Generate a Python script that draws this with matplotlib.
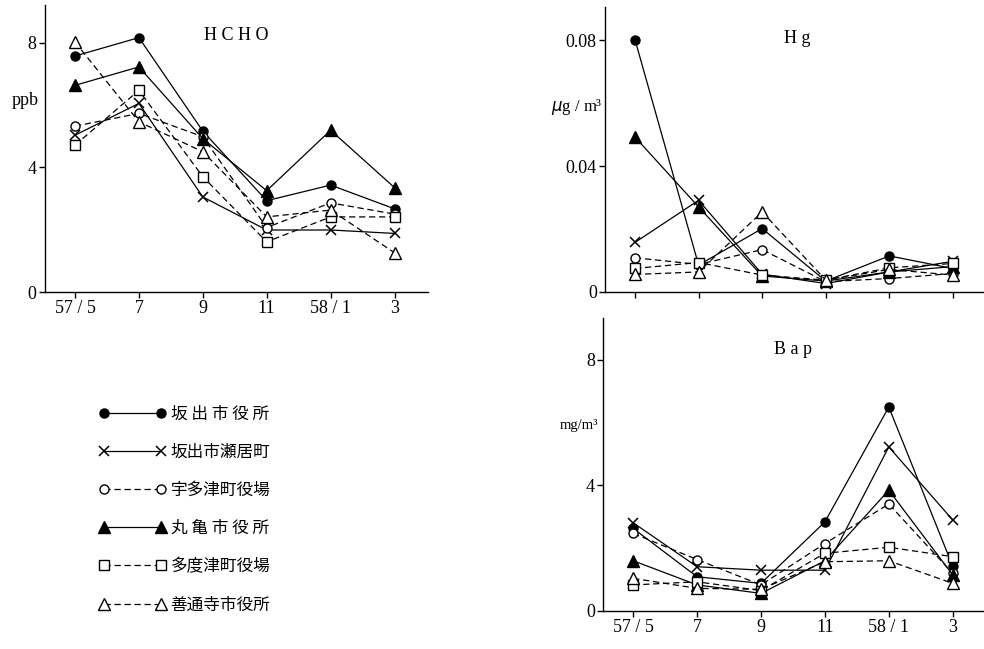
import matplotlib
matplotlib.use("Agg")
import matplotlib.pyplot as plt

plt.rcParams['font.family'] = ['Liberation Serif', 'Noto Sans CJK JP', 'DejaVu Sans']

# sampling months (Showa 57/5 ... 58/3)
months = ["57 / 5", "7", "9", "11", "58 / 1", "3"]
sites = ["坂 出 市 役 所", "坂出市瀬居町", "宇多津町役場", "丸 亀 市 役 所", "多度津町役場", "善通寺市役所"]

hcho_sakaide = [7.57, 8.16, 5.16, 2.93, 3.43, 2.67]
hcho_sei = [5.03, 6.05, 3.05, 1.99, 1.99, 1.88]
hcho_utazu = [5.32, 5.73, 4.98, 2.07, 2.86, 2.5]
hcho_marugame = [6.63, 7.22, 4.92, 3.25, 5.19, 3.35]
hcho_tadotsu = [4.71, 6.47, 3.70, 1.61, 2.41, 2.41]
hcho_zentsuji = [8.02, 5.46, 4.50, 2.41, 2.63, 1.26]

hg_sakaide = [0.0802, 0.0085, 0.0201, 0.0034, 0.0114, 0.0074]
hg_sei = [0.0157, 0.0291, 0.0056, 0.0026, 0.0063, 0.0097]
hg_utazu = [0.0108, 0.0087, 0.0134, 0.0032, 0.0042, 0.0058]
hg_marugame = [0.0492, 0.0270, 0.0050, 0.0034, 0.0063, 0.0080]
hg_tadotsu = [0.0074, 0.0093, 0.0053, 0.0037, 0.0076, 0.0090]
hg_zentsuji = [0.0055, 0.0063, 0.0254, 0.0037, 0.0071, 0.0053]

bap_sakaide = [2.63, 1.09, 0.88, 2.84, 6.50, 1.43]
bap_sei = [2.81, 1.41, 1.30, 1.30, 5.23, 2.90]
bap_utazu = [2.47, 1.64, 0.83, 2.15, 3.41, 1.20]
bap_marugame = [1.60, 0.83, 0.56, 1.60, 3.85, 1.15]
bap_tadotsu = [0.83, 0.93, 0.65, 1.84, 2.03, 1.73]
bap_zentsuji = [1.04, 0.72, 0.69, 1.57, 1.60, 0.88]

styles = [
    dict(marker='o', mfc='black', ms=6.5, ls='-'),
    dict(marker='x', mfc='black', ms=7, ls='-', mew=1.1),
    dict(marker='o', mfc='white', ms=6.5, ls=(0, (5, 3))),
    dict(marker='^', mfc='black', ms=8, ls='-'),
    dict(marker='s', mfc='white', ms=6.5, ls=(0, (5, 3))),
    dict(marker='^', mfc='white', ms=8, ls=(0, (5, 3))),
]

fig = plt.figure(figsize=(9.84, 6.49), dpi=100)
ax_hcho = fig.add_axes([0.0457, 0.550, 0.389, 0.442])
ax_hg = fig.add_axes([0.615, 0.5505, 0.385, 0.439])
ax_bap = fig.add_axes([0.613, 0.0586, 0.387, 0.451])

x = list(range(len(months)))


def setup(ax, ymax, yticks, ylabels, xlabels=True):
    for s in ('top', 'right'):
        ax.spines[s].set_visible(False)
    ax.spines['left'].set_linewidth(1.0)
    ax.spines['bottom'].set_linewidth(1.0)
    ax.set_xlim(-0.47, 5.52)
    ax.set_ylim(0, ymax)
    ax.set_xticks(x)
    ax.set_xticklabels(months if xlabels else [])
    ax.set_yticks(yticks)
    ax.set_yticklabels(ylabels)
    ax.tick_params(direction='out', length=4, width=1, labelsize=13, pad=2)


def draw(ax, series):
    lines = []
    for vals, st in zip(series, styles):
        ln, = ax.plot(x, vals, color='black', lw=0.9, mec='black', clip_on=False, **st)
        lines.append(ln)
    return lines


handles = draw(ax_hcho, [hcho_sakaide, hcho_sei, hcho_utazu, hcho_marugame, hcho_tadotsu, hcho_zentsuji])
setup(ax_hcho, 9.2, [0, 4, 8], ["0", "4", "8"])
ax_hcho.text(0.50, 0.895, "H C H O", transform=ax_hcho.transAxes, ha='center', va='center', fontsize=13)
ax_hcho.text(-0.052, 0.669, "ppb", transform=ax_hcho.transAxes, ha='center', va='center', fontsize=13)

draw(ax_hg, [hg_sakaide, hg_sei, hg_utazu, hg_marugame, hg_tadotsu, hg_zentsuji])
setup(ax_hg, 0.0907, [0, 0.04, 0.08], ["0", "0.04", "0.08"], xlabels=False)
ax_hg.set_xlim(-0.47, 5.49)
ax_hg.text(0.507, 0.89, "H g", transform=ax_hg.transAxes, ha='center', va='center', fontsize=13)
ax_hg.text(-0.008, 0.648, "$\\mu$g / m³", transform=ax_hg.transAxes, ha='right', va='center', fontsize=12)

draw(ax_bap, [bap_sakaide, bap_sei, bap_utazu, bap_marugame, bap_tadotsu, bap_zentsuji])
setup(ax_bap, 9.33, [0, 4, 8], ["0", "4", "8"])
ax_bap.set_xlim(-0.47, 5.49)
ax_bap.text(0.499, 0.894, "B a p", transform=ax_bap.transAxes, ha='center', va='center', fontsize=13)
ax_bap.text(-0.013, 0.635, "mg/m³", transform=ax_bap.transAxes, ha='right', va='center', fontsize=10.5)

leg = fig.legend(handles, sites, loc='upper left', bbox_to_anchor=(0.092, 0.388),
                 frameon=False, numpoints=2, handlelength=4.0, labelspacing=1.27,
                 handletextpad=0.3, borderpad=0,
                 prop={'family': ['Noto Sans CJK JP'], 'size': 12})

fig.savefig("out.png", dpi=100)
